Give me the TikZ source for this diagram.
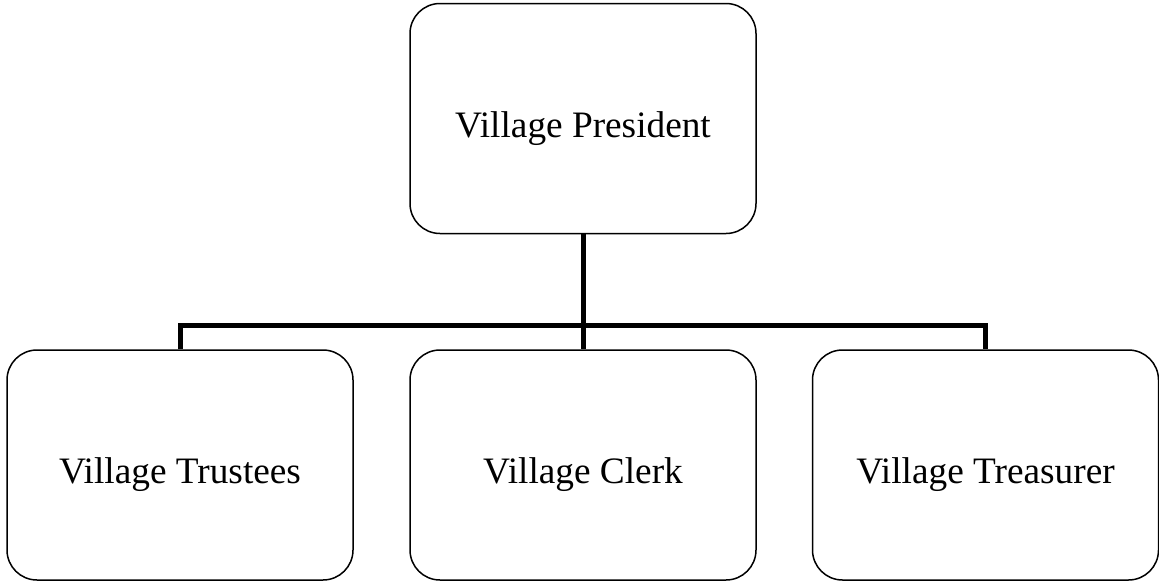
\documentclass[tikz,border=0pt]{standalone}
\usepackage{fontspec}
\setmainfont{Liberation Serif}
\begin{document}
\begin{tikzpicture}[x=1pt,y=-1pt,
  box/.style={draw=black, line width=1.5pt, rounded corners=30pt, minimum width=346pt, minimum height=230pt, inner sep=0pt, text height=40pt, text depth=3pt, font=\fontsize{37.3}{44}\selectfont, fill=white},
  conn/.style={draw=black, line width=5pt}]
\useasboundingbox (0,0) rectangle (1159,584);
\node[box] (pres) at (583,118.5) {Village President};
\node[box] (trus) at (180,465) {Village Trustees};
\node[box] (clerk) at (583,465) {Village Clerk};
\node[box] (treas) at (985.5,465) {Village Treasurer};
\coordinate (bar) at (583,325);
\draw[conn] (pres.south) -- (clerk.north);
\draw[conn] (trus.north) |- (bar) -| (treas.north);
\end{tikzpicture}
\end{document}
